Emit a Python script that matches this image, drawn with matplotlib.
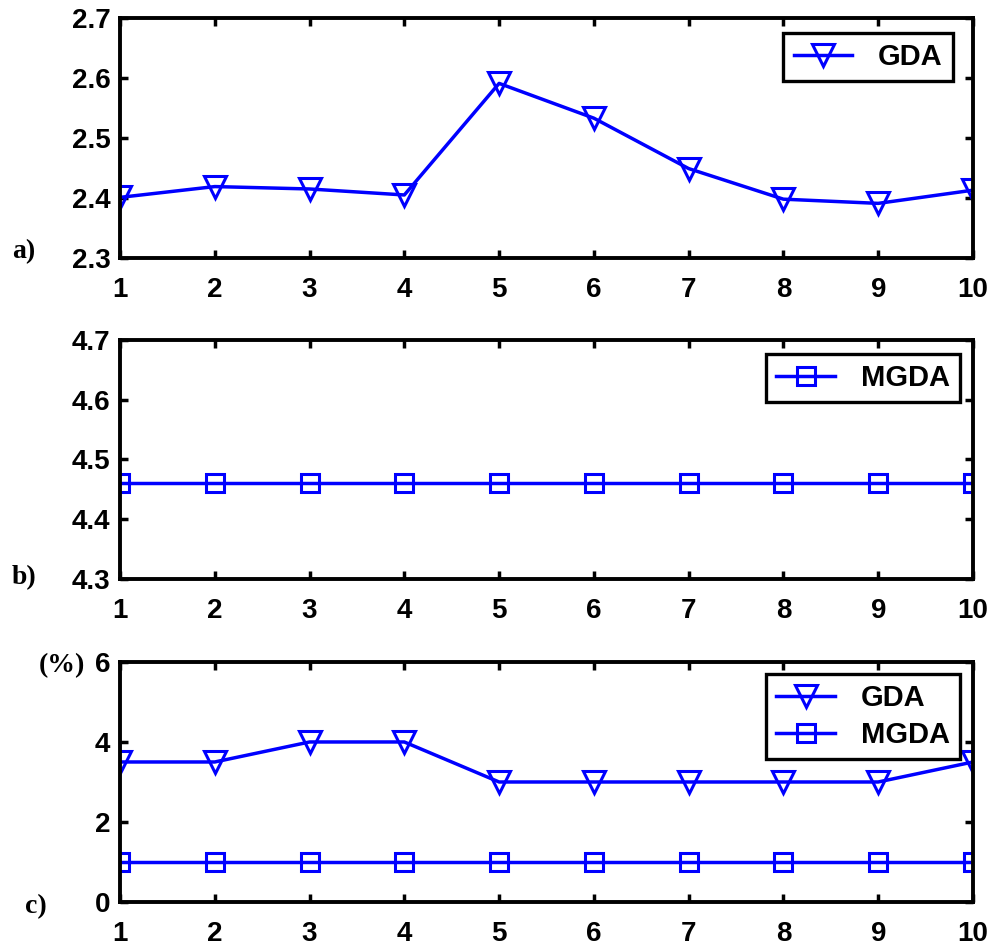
import matplotlib
matplotlib.use("Agg")
import matplotlib.pyplot as plt

# data
runs = [1, 2, 3, 4, 5, 6, 7, 8, 9, 10]
gda_a = [2.401, 2.419, 2.415, 2.405, 2.591, 2.533, 2.449, 2.398, 2.391, 2.413]
mgda_b = [4.46, 4.46, 4.46, 4.46, 4.46, 4.46, 4.46, 4.46, 4.46, 4.46]
gda_c = [3.5, 3.5, 4.0, 4.0, 3.0, 3.0, 3.0, 3.0, 3.0, 3.5]
mgda_c = [1, 1, 1, 1, 1, 1, 1, 1, 1, 1]

yticks_a = [2.3, 2.4, 2.5, 2.6, 2.7]
yticks_b = [4.3, 4.4, 4.5, 4.6, 4.7]
yticks_c = [0, 2, 4, 6]

plt.rcParams['font.family'] = ['Liberation Sans', 'DejaVu Sans']
plt.rcParams['font.weight'] = 'bold'

blue = '#0000ff'
tri = dict(color=blue, lw=2.5, marker='v', ms=16, mfc='none', mew=2.2)
sq = dict(color=blue, lw=2.5, marker='s', ms=13, mfc='none', mew=2.2)

fig = plt.figure(figsize=(9.91, 9.47), dpi=100)
left, width = 0.1211, 0.8607
ax_a = fig.add_axes([left, 0.7276, width, 0.2534])
ax_b = fig.add_axes([left, 0.3886, width, 0.2524])
ax_c = fig.add_axes([left, 0.0475, width, 0.2535])


def style(ax, yticks):
    ax.set_xlim(1, 10)
    ax.set_xticks(runs)
    ax.set_ylim(yticks[0], yticks[-1])
    ax.set_yticks(yticks)
    ax.set_yticklabels([f"{v:g}" for v in yticks])
    for s in ax.spines.values():
        s.set_linewidth(2.8)
    ax.tick_params(direction='in', top=True, right=True, length=6, width=2.5,
                   labelsize=20)
    ax.tick_params(axis='x', pad=14)
    ax.tick_params(axis='y', pad=7)
    for lab in ax.get_xticklabels() + ax.get_yticklabels():
        lab.set_fontweight('bold')


def legend(ax, anchor):
    leg = ax.legend(loc='upper right', bbox_to_anchor=anchor, borderaxespad=0,
                    fancybox=False, edgecolor='black', framealpha=1,
                    prop={'size': 21, 'weight': 'bold'}, handlelength=2.0,
                    handletextpad=0.9, borderpad=0.35, labelspacing=0.3)
    leg.get_frame().set_linewidth(2.4)


ax_a.plot(runs, gda_a, label='GDA', **tri)
style(ax_a, yticks_a)
legend(ax_a, (0.9766, 0.9375))

ax_b.plot(runs, mgda_b, label='MGDA', **sq)
style(ax_b, yticks_b)
legend(ax_b, (0.985, 0.941))

ax_c.plot(runs, gda_c, label='GDA', **tri)
ax_c.plot(runs, mgda_c, label='MGDA', **sq)
style(ax_c, yticks_c)
legend(ax_c, (0.985, 0.95))

# panel letters and unit, Times-like bold
serif = dict(family=['Liberation Serif', 'DejaVu Serif'], weight='bold', size=20)
fig.text(12 / 991, 1 - 252 / 947, 'a)', va='center', ha='left', **serif)
fig.text(12 / 991, 1 - 578 / 947, 'b)', va='center', ha='left', **serif)
fig.text(25 / 991, 1 - 907 / 947, 'c)', va='center', ha='left', **serif)
fig.text(62 / 991, 1 - 666 / 947, '(%)', va='center', ha='center', **serif)

fig.savefig('out.png', dpi=100)
